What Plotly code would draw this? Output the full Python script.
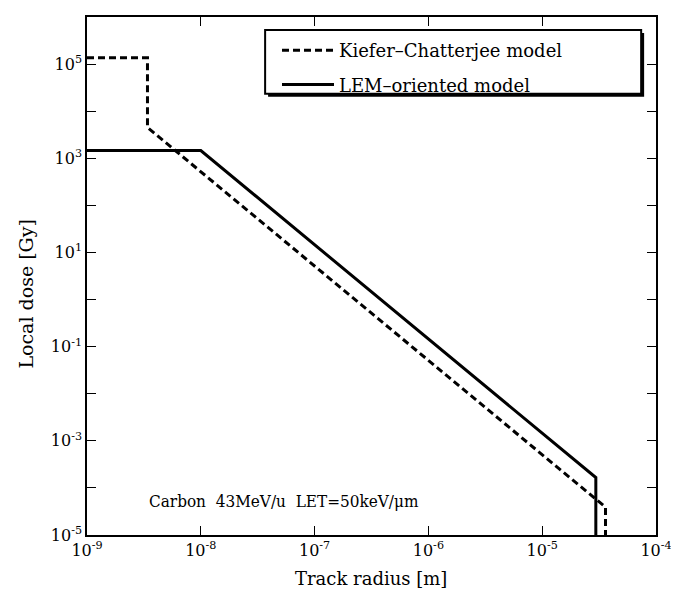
import plotly.graph_objects as go

# Kiefer–Chatterjee model (dashed)
kc_radius = [1e-9, 3.4e-9, 3.4e-9, 3.6e-5, 3.6e-5]
kc_dose = [1.36e5, 1.36e5, 4.5e3, 3.9e-5, 1e-5]

# LEM-oriented model (solid)
lem_radius = [1e-9, 1e-8, 2.96e-5, 2.96e-5]
lem_dose = [1.46e3, 1.46e3, 1.66e-4, 1e-5]

x_tick_exps = [-9, -8, -7, -6, -5, -4]
y_label_exps = [-5, -3, -1, 1, 3, 5]
y_minor_exps = [-4, -2, 0, 2, 4, 6]

series_names = ["Kiefer\u2013Chatterjee model", "LEM\u2013oriented model"]
annotation_text = "Carbon  43MeV/u  LET=50keV/\u03bcm"

FONT = "DejaVu Serif"
FONT_C = "DejaVu Serif Condensed"

fig = go.Figure()
fig.add_trace(go.Scatter(x=kc_radius, y=kc_dose, mode="lines", name=series_names[0],
                         line=dict(color="black", width=3, dash="7px,4px"),
                         legendgroup="a"))
fig.add_trace(go.Scatter(x=lem_radius, y=lem_dose, mode="lines", name=series_names[1],
                         line=dict(color="black", width=3),
                         legendgroup="b"))

xtickvals = [10.0 ** e for e in x_tick_exps]
xticktext = ["10<sup>%d</sup>" % e for e in x_tick_exps]
ytickvals = [10.0 ** e for e in y_label_exps]
yticktext = ["10<sup>%d</sup>" % e for e in y_label_exps]
yminorvals = [10.0 ** e for e in y_minor_exps]

axis_common = dict(showline=True, linecolor="black", linewidth=1.5, mirror="allticks",
                   ticks="inside", ticklen=9, tickwidth=1, tickcolor="black",
                   showgrid=False, zeroline=False,
                   tickfont=dict(family=FONT, size=16, color="black"))

fig.update_xaxes(type="log", range=[-9, -4], tickvals=xtickvals, ticktext=xticktext, **axis_common)
fig.update_yaxes(type="log", range=[-5, 6], tickvals=ytickvals, ticktext=yticktext,
                 minor=dict(tickmode="array", tickvals=yminorvals, ticks="inside",
                            ticklen=9, tickwidth=1, tickcolor="black", showgrid=False),
                 **axis_common)

# page body has an 8px default margin; compensate so the screenshot matches
OFF = 8
W, H = 679 - OFF, 592 - OFF
L, T, R, B = 87 - OFF, 15 - OFF, 17, 57
pw, ph = W - L - R, H - T - B

def px_to_paper(x, y):
    # x, y are absolute screenshot pixels
    x -= OFF
    y -= OFF
    return (x - L) / pw, (H - B - y) / ph

# legend box with shadow
bx0, by0 = px_to_paper(267, 28)
bx1, by1 = px_to_paper(647, 92)
sx0, sy0 = px_to_paper(270, 31)
sx1, sy1 = px_to_paper(650, 95)
fig.add_shape(type="rect", xref="paper", yref="paper", x0=sx0, y0=sy0, x1=sx1, y1=sy1,
              fillcolor="black", line=dict(width=0), layer="above")
fig.add_shape(type="rect", xref="paper", yref="paper", x0=bx0, y0=by0, x1=bx1, y1=by1,
              fillcolor="white", line=dict(color="black", width=2), layer="above")

lx, ly = px_to_paper(279, 30)
tx, ty = px_to_paper(374, 579)
yx, yy = px_to_paper(25, 293)
fig.update_layout(
    width=W, height=H,
    margin=dict(l=L, r=R, t=T, b=B),
    plot_bgcolor="white", paper_bgcolor="white",
    showlegend=True,
    legend=dict(x=lx, y=ly, xanchor="left", yanchor="top",
                bgcolor="rgba(0,0,0,0)", borderwidth=0,
                font=dict(family=FONT, size=18, color="black"),
                tracegroupgap=8, itemwidth=52),
    annotations=[
        dict(text=annotation_text, x=-7.27, y=-4.28, xref="x", yref="y",
             showarrow=False, font=dict(family=FONT_C, size=17, color="black")),
        dict(text="Track radius [m]", x=tx, y=ty, xref="paper", yref="paper",
             showarrow=False, yanchor="middle", font=dict(family=FONT, size=18, color="black")),
        dict(text="Local dose [Gy]", x=yx, y=yy, xref="paper", yref="paper",
             showarrow=False, textangle=-90, xanchor="center", yanchor="middle",
             font=dict(family=FONT, size=19, color="black")),
    ],
)

fig.write_html("out.html")
